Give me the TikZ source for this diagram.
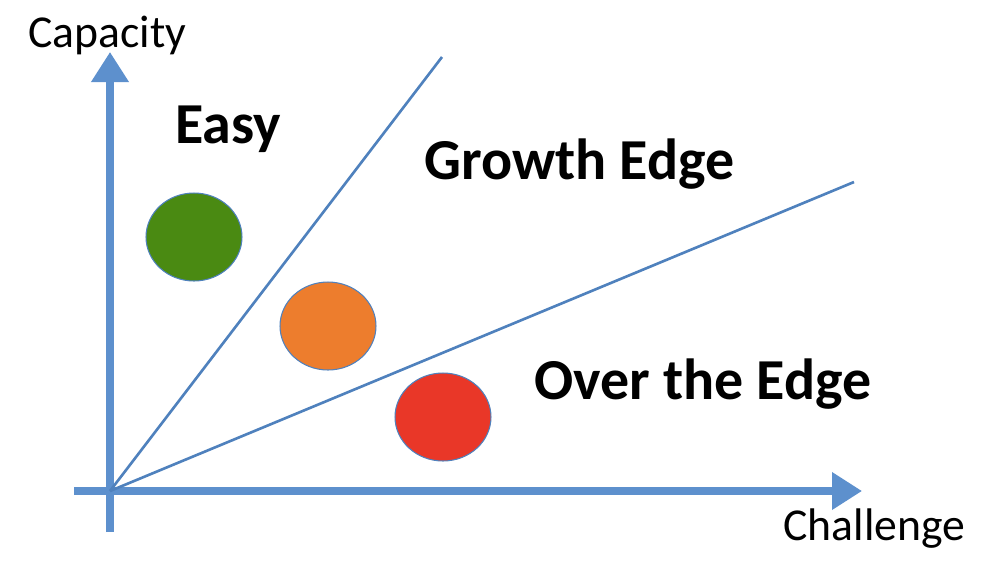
\documentclass[tikz,border=0pt]{standalone}
\usepackage{fontspec}
\setmainfont{Carlito}
\usepackage{tikz}
\usetikzlibrary{arrows.meta, shapes.geometric}

\definecolor{axisblue}{RGB}{93,144,205}
\definecolor{lineblue}{RGB}{79,129,189}
\definecolor{easygreen}{RGB}{74,138,18}
\definecolor{groworange}{RGB}{237,125,45}
\definecolor{overred}{RGB}{233,55,40}

\begin{document}
\begin{tikzpicture}[
    x=0.02cm, y=-0.02cm,
    axis/.style={draw=axisblue, line width=4pt,
                 -{Triangle[width=0.72cm, length=0.6cm]}},
    edge/.style={draw=lineblue, line width=1.5pt},
    dot/.style={ellipse, draw=lineblue, line width=0.6pt, inner sep=0pt,
                minimum width=1.92cm, minimum height=1.76cm},
    axlabel/.style={anchor=base west, inner sep=0pt,
                    font=\fontsize{26}{30}\selectfont},
    zone/.style={anchor=base west, inner sep=0pt,
                 font=\fontsize{33}{38}\selectfont\bfseries}
]
\useasboundingbox (0,0) rectangle (1000,562);

%% ---- axes ------------------------------------------------------
\coordinate (origin) at (110,491);
\coordinate (ybot)   at (110,532);
\coordinate (ytop)   at (110,52);
\coordinate (xleft)  at (74,491);
\coordinate (xright) at (862,491);

\draw[axis] (ybot)  -- (ytop);
\draw[axis] (xleft) -- (xright);

%% ---- edges between the zones -----------------------------------
\coordinate (steepend) at (442,57);
\coordinate (flatend)  at (854,182);

\draw[edge] (origin) -- (steepend);
\draw[edge] (origin) -- (flatend);

%% ---- dots ------------------------------------------------------
\node[dot, fill=easygreen]  (green)  at (194,237) {};
\node[dot, fill=groworange] (orange) at (328,326) {};
\node[dot, fill=overred]    (red)    at (443,417) {};

%% ---- labels ----------------------------------------------------
\node[axlabel] (capacity)  at (28,47)   {Capacity};
\node[axlabel] (challenge) at (783,540) {Challenge};

\node[zone] (easy)   at (175,143) {Easy};
\node[zone] (growth) at (424,179) {Growth Edge};
\node[zone] (over)   at (534,399) {Over the Edge};

\end{tikzpicture}
\end{document}
